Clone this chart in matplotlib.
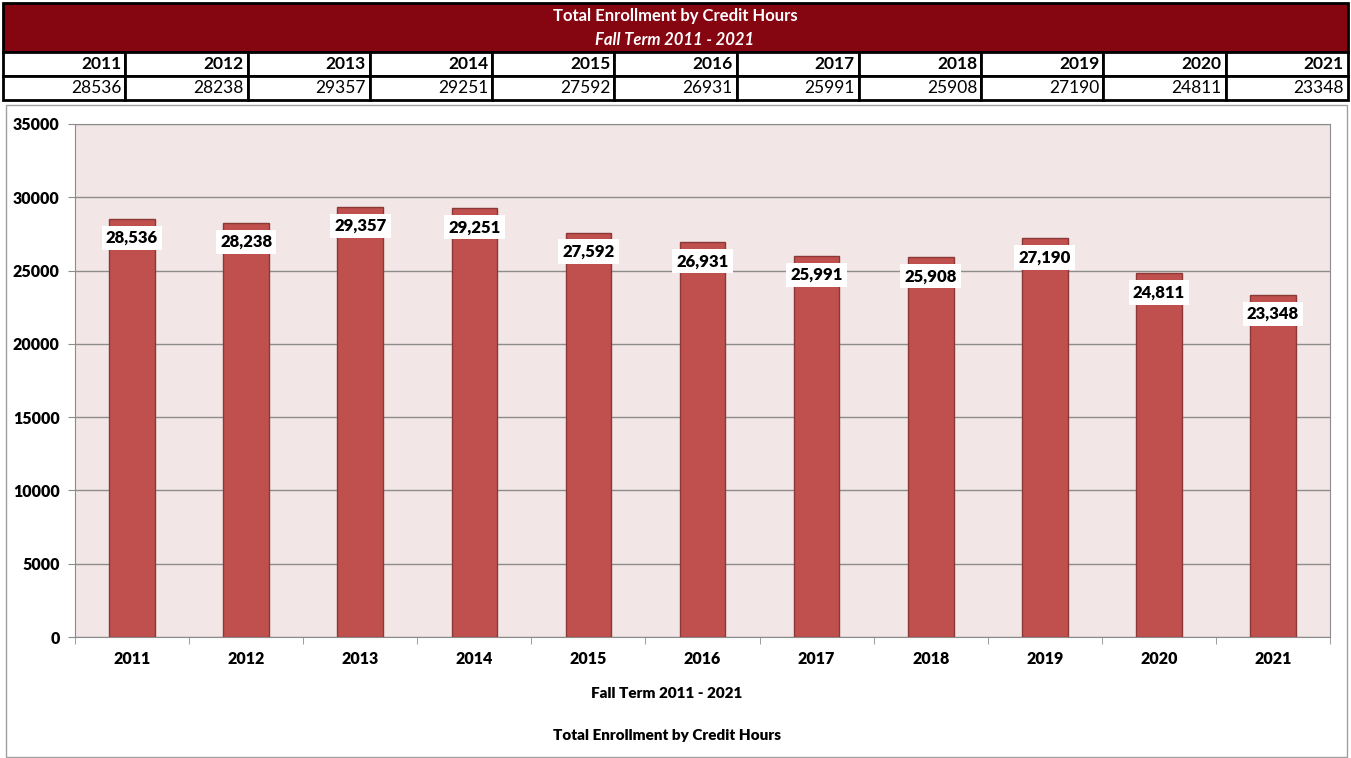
import matplotlib
matplotlib.use("Agg")
import matplotlib.pyplot as plt
from matplotlib.patches import Rectangle
from matplotlib.ticker import FixedLocator, NullFormatter

plt.rcParams['font.family'] = ['Lato', 'DejaVu Sans']

years = ['2011', '2012', '2013', '2014', '2015', '2016', '2017', '2018', '2019', '2020', '2021']
enrollment = [28536, 28238, 29357, 29251, 27592, 26931, 25991, 25908, 27190, 24811, 23348]
title = 'Total Enrollment by Credit Hours'
subtitle = 'Fall Term 2011 - 2021'

W, H = 1351, 758
fig = plt.figure(figsize=(W / 100, H / 100), dpi=100)

def fx(px):
    return px / W

def fy(py):
    return 1 - py / H

# header band
dark_red = '#850510'
fig.patches.append(Rectangle((fx(3), fy(52)), fx(1345), 49 / H, transform=fig.transFigure,
                             facecolor=dark_red, edgecolor='black', lw=2))
fig.text(fx(675), fy(16), title, color='white', fontsize=12, fontweight='bold', ha='center', va='center')
fig.text(fx(675), fy(40), subtitle, color='white', fontsize=12, fontweight='bold', style='italic',
         ha='center', va='center')

# data table under the header
col_w = 1345 / len(years)
for i, (yr, val) in enumerate(zip(years, enrollment)):
    x0 = 3 + i * col_w
    for top, txt, bold in [(52, yr, True), (76, str(val), False)]:
        fig.patches.append(Rectangle((fx(x0), fy(top + 24)), fx(col_w), 24 / H,
                                     transform=fig.transFigure, facecolor='white',
                                     edgecolor='black', lw=2))
        fig.text(fx(x0 + col_w - 4), fy(top + 12), txt, fontsize=12.5,
                 fontweight='bold' if bold else 'normal', ha='right', va='center')

# chart frame
fig.patches.append(Rectangle((fx(6), fy(757)), fx(1341), 652 / H, transform=fig.transFigure,
                             facecolor='none', edgecolor='#a0a0a0', lw=1))

ax = fig.add_axes([fx(75), fy(637), fx(1255), 513 / H])
ax.set_facecolor('#f2e6e6')
x = range(len(years))
ax.bar(x, enrollment, width=0.4, color='#c0504d', edgecolor='#8c3836', lw=1, zorder=3)

for xi, v in zip(x, enrollment):
    ax.annotate(f'{v:,}', (xi, v), xytext=(0, -19), textcoords='offset pixels',
                ha='center', va='center', fontsize=12, fontweight='heavy', zorder=4,
                bbox=dict(boxstyle='square,pad=0.25', facecolor='white', edgecolor='none'))

ax.set_xlim(-0.5, len(years) - 0.5)
ax.set_ylim(0, 35000)
ax.set_yticks(range(0, 35001, 5000))
ax.yaxis.grid(True, color='#8c8c8c', lw=1, zorder=1)
ax.set_axisbelow(True)
ax.set_xticks(list(x))
ax.set_xticklabels(years)
ax.xaxis.set_minor_locator(FixedLocator([i - 0.5 for i in range(len(years) + 1)]))
ax.xaxis.set_minor_formatter(NullFormatter())
ax.tick_params(axis='x', which='major', length=0, pad=10)
ax.tick_params(axis='x', which='minor', length=5, color='#8c8c8c')
ax.tick_params(axis='y', length=5, color='#8c8c8c', pad=6)
for lbl in ax.get_xticklabels() + ax.get_yticklabels():
    lbl.set_fontweight('heavy')
    lbl.set_fontsize(11.5)
for s in ax.spines.values():
    s.set_color('#8c8c8c')

fig.text(fx(667), fy(694), subtitle, fontsize=11, fontweight='heavy', ha='center', va='center')
fig.text(fx(667), fy(736), title, fontsize=11, fontweight='heavy', ha='center', va='center')

fig.savefig('out.png', dpi=100)
